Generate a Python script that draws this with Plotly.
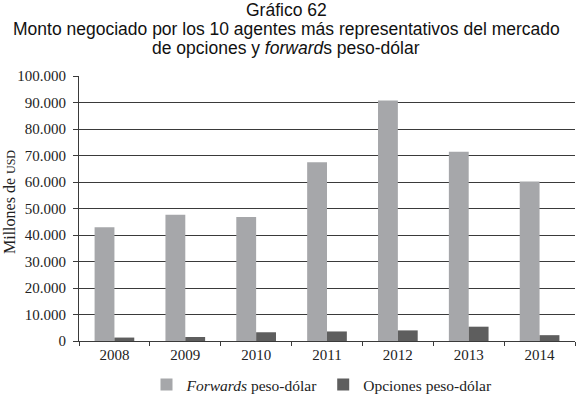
import plotly.graph_objects as go

years = ["2008", "2009", "2010", "2011", "2012", "2013", "2014"]
forwards = [42900, 47600, 46800, 67500, 90800, 71400, 60200]
opciones = [1300, 1500, 3300, 3600, 4000, 5400, 2200]
ytick_vals = [0, 10000, 20000, 30000, 40000, 50000, 60000, 70000, 80000, 90000, 100000]
ytick_text = ["0", "10.000", "20.000", "30.000", "40.000", "50.000", "60.000",
              "70.000", "80.000", "90.000", "100.000"]

serif = "Liberation Serif, Times New Roman, serif"
sans = "Liberation Sans, Arial, sans-serif"

fig = go.Figure()
fig.add_trace(go.Bar(x=years, y=forwards, name="<i>Forwards</i> peso-dólar",
                     marker=dict(color="#a6a7aa", line=dict(width=0))))
fig.add_trace(go.Bar(x=years, y=opciones, name="Opciones peso-dólar",
                     marker=dict(color="#5e5e5e", line=dict(width=0))))

fig.update_layout(
    width=577, height=397,
    margin=dict(l=79, r=2, t=76, b=56),
    paper_bgcolor="white", plot_bgcolor="white",
    barmode="group", bargap=0.44, bargroupgap=0,
    showlegend=True,
    legend=dict(orientation="h", x=(322 - 79) / 496, xanchor="center",
                yref="container", y=(397 - 385) / 397, yanchor="middle",
                font=dict(family=serif, size=15.5, color="#222"), itemwidth=30,
                traceorder="normal"),
    font=dict(family=serif, size=15, color="#222"),
)

titles = ["Gráfico 62",
          "Monto negociado por los 10 agentes más representativos del mercado",
          "de opciones y <i>forward</i>s peso-dólar"]
for i, t in enumerate(titles):
    fig.add_annotation(text=t, xref="paper", yref="paper", x=(286 - 79) / 496,
                       y=1 + (76 - (10 + 19 * i)) / 265, xanchor="center", yanchor="middle",
                       showarrow=False, font=dict(family=sans, size=17.5, color="#111"))

fig.add_annotation(text="Millones de <span style='font-size:12px'>USD</span>",
                   xref="paper", yref="paper", x=-(79 - 9) / 496, y=(341 - 202) / 265,
                   textangle=-90, xanchor="center", yanchor="middle", showarrow=False,
                   font=dict(family=serif, size=16, color="#222"))

fig.update_yaxes(range=[0, 100000], tickvals=ytick_vals, ticktext=ytick_text,
                 showgrid=True, gridcolor="#3a3a3a", gridwidth=1,
                 showline=True, linecolor="#3a3a3a", linewidth=1,
                 ticks="outside", ticklen=5, tickcolor="#3a3a3a",
                 ticklabelstandoff=4,
                 zeroline=False, fixedrange=True,
                 tickfont=dict(family=serif, size=15, color="#222"))
fig.update_xaxes(showline=True, linecolor="#3a3a3a", linewidth=1,
                 ticks="outside", tickson="boundaries", ticklen=4, tickcolor="#3a3a3a",
                 showgrid=False, fixedrange=True,
                 tickfont=dict(family=serif, size=15, color="#222"))

fig.write_html("out.html", config={"displayModeBar": False},
               post_script="document.body.style.margin='0';")
